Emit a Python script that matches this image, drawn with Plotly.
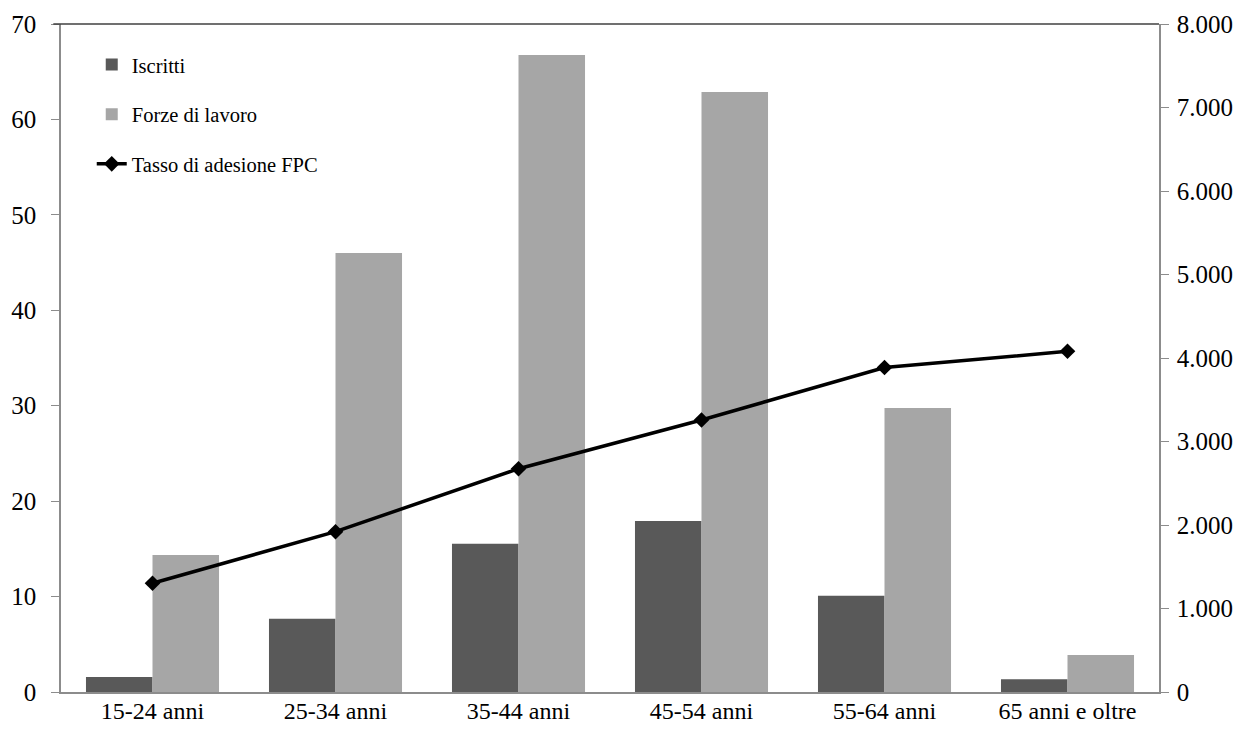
import plotly.graph_objects as go

categories = ["15-24 anni", "25-34 anni", "35-44 anni", "45-54 anni", "55-64 anni", "65 anni e oltre"]
iscritti = [180, 878, 1776, 2048, 1153, 152]
forze_lavoro = [1641, 5257, 7629, 7186, 3401, 443]
tasso_adesione = [11.4, 16.8, 23.4, 28.5, 34.0, 35.7]

left_ticks = [0, 10, 20, 30, 40, 50, 60, 70]
right_ticks = [0, 1000, 2000, 3000, 4000, 5000, 6000, 7000, 8000]

FONT = "Liberation Serif, Times New Roman, serif"
AXIS_COLOR = "#8c8c8c"

fig = go.Figure()
fig.add_trace(go.Bar(
    x=categories, y=iscritti, name="Iscritti",
    marker=dict(color="#595959", line=dict(width=0)),
    yaxis="y", legendgroup="a",
))
fig.add_trace(go.Bar(
    x=categories, y=forze_lavoro, name="Forze di lavoro",
    marker=dict(color="#a6a6a6", line=dict(width=0)),
    yaxis="y", legendgroup="b",
))
fig.add_trace(go.Scatter(
    x=categories, y=tasso_adesione, name="Tasso di adesione FPC",
    mode="lines+markers",
    line=dict(color="#000000", width=3.5),
    marker=dict(symbol="diamond", size=12, color="#000000"),
    yaxis="y2", legendgroup="c",
))

fig.update_layout(
    width=1229, height=719,
    margin=dict(l=53, r=78, t=16, b=35, autoexpand=False),
    paper_bgcolor="white", plot_bgcolor="white",
    separators=",.",
    font=dict(family=FONT, size=25, color="#000000"),
    barmode="group", bargap=0.273, bargroupgap=0,
    showlegend=True,
    legend=dict(
        x=0.028, y=0.969, xanchor="left", yanchor="top",
        bgcolor="rgba(0,0,0,0)",
        font=dict(family=FONT, size=20.5, color="#000000"),
        tracegroupgap=20, traceorder="grouped",
    ),
    xaxis=dict(
        type="category", showgrid=False, ticks="", automargin=False,
        showline=True, linecolor=AXIS_COLOR, linewidth=1.5,
        tickfont=dict(size=24), zeroline=False, ticklabelstandoff=-4,
    ),
    yaxis=dict(
        side="right", range=[0, 8000], tickvals=right_ticks, automargin=False,
        tickformat=",d", showgrid=False, zeroline=False,
        showline=True, linecolor=AXIS_COLOR, linewidth=1.5,
        ticks="outside", ticklen=8, tickcolor=AXIS_COLOR, tickwidth=1,
        tickfont=dict(size=25), ticklabelstandoff=3,
    ),
    yaxis2=dict(
        side="left", overlaying="y", range=[0, 70], tickvals=left_ticks, automargin=False,
        showgrid=False, zeroline=False,
        showline=True, linecolor=AXIS_COLOR, linewidth=1.5,
        ticks="outside", ticklen=8, tickcolor=AXIS_COLOR, tickwidth=1,
        tickfont=dict(size=25), ticklabelstandoff=10,
    ),
    shapes=[dict(
        type="line", xref="paper", yref="paper", x0=-0.007, x1=1.0, y0=1, y1=1,
        line=dict(color="#404040", width=1.5),
    )],
)

fig.write_html("out.html")
